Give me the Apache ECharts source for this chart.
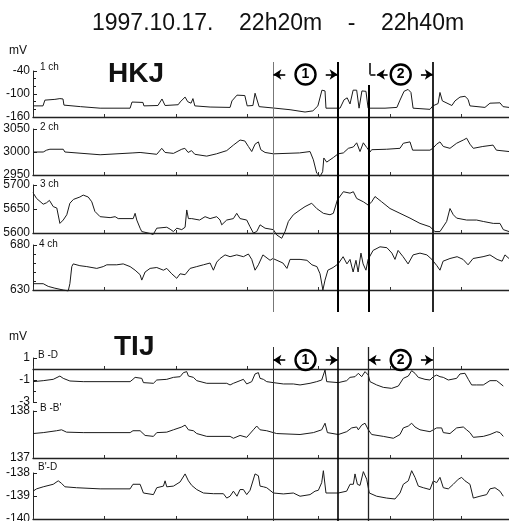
<!DOCTYPE html>
<html>
<head>
<meta charset="utf-8">
<script src="https://cdn.jsdelivr.net/npm/echarts/dist/echarts.min.js"></script>
<style>
    html, body { margin: 0; padding: 0; background: #fff; }
    #chart_01 { width: 509px; height: 521px; }
</style>
</head>
<body>
<div id="chart_01"></div>
<script>
// time in minutes after 22h20m, values in mV
var ch1 = [[0,-131],[0.42,-131],[0.5,-116],[0.92,-114],[1.13,-112],[1.26,-113],[1.3,-129],[2.0,-133],[2.82,-137],[4.08,-137],[4.16,-121],[4.62,-122],[4.66,-131],[5.25,-130],[5.42,-113],[5.55,-130],[6.1,-128],[6.18,-121],[6.39,-108],[6.5,-120],[6.64,-124],[6.72,-112],[6.8,-131],[7.44,-134],[8.28,-135],[8.36,-118],[8.57,-103],[8.9,-104],[9.0,-131],[9.24,-130],[9.33,-98],[9.41,-98],[9.5,-133],[10.17,-137],[10.8,-141],[11.43,-147],[11.76,-144],[11.97,-131],[12.14,-90],[12.27,-92],[12.31,-137],[12.9,-137],[13.07,-115],[13.2,-110],[13.32,-126],[13.45,-90],[13.6,-90],[13.7,-137],[13.82,-92],[13.99,-93],[14.08,-137],[14.79,-137],[15.29,-135],[15.42,-116],[15.59,-93],[15.76,-88],[15.88,-96],[15.97,-137],[16.68,-140],[16.8,-131],[17.02,-125],[17.1,-96],[17.2,-118],[17.6,-130],[17.73,-118],[17.94,-108],[18.15,-106],[18.28,-114],[18.36,-131],[18.99,-135],[19.2,-124],[19.62,-123],[19.75,-133],[20,-135]];
var ch2 = [[0,3000],[0.43,3000],[0.57,3004],[0.71,3006],[1.27,3006],[1.34,3000],[2.82,2994],[4.2,2998],[4.27,3002],[4.5,2999],[5.2,2995],[5.41,3008],[5.55,2999],[5.9,2997],[6.25,3006],[6.38,3008],[6.52,2999],[6.66,3003],[6.8,2995],[7.3,2991],[7.71,2996],[8.14,3003],[8.42,3015],[8.7,3026],[8.9,3024],[9.05,3012],[9.19,3001],[9.33,3017],[9.47,3022],[9.57,3005],[9.75,2999],[10.1,2996],[11.2,2998],[11.64,3001],[11.78,2983],[11.92,2954],[12.06,2947],[12.17,2957],[12.22,2987],[12.34,2978],[12.62,2988],[12.82,2996],[13.04,2998],[13.25,3008],[13.46,3011],[13.6,3020],[13.74,3001],[13.88,3020],[14.02,3010],[14.16,3000],[14.23,3005],[14.86,3006],[15.42,3008],[15.56,3019],[15.84,3022],[15.95,3004],[16.68,3004],[16.8,3008],[16.96,3017],[17.1,3022],[17.24,3012],[17.52,3008],[17.8,3019],[18.08,3026],[18.22,3030],[18.36,3017],[18.5,3008],[18.9,3012],[19.33,3015],[19.47,3004],[20,3001]];
var ch3 = [[0,5684],[0.15,5672],[0.43,5660],[0.57,5663],[0.69,5668],[0.85,5655],[1.0,5652],[1.13,5620],[1.27,5627],[1.42,5638],[1.55,5662],[1.7,5670],[1.97,5675],[2.11,5679],[2.32,5675],[2.47,5665],[2.6,5645],[2.82,5634],[3.24,5632],[3.45,5634],[3.58,5630],[4.21,5630],[4.29,5641],[4.36,5627],[4.5,5610],[4.57,5603],[4.92,5599],[5.05,5597],[5.2,5610],[5.62,5612],[5.76,5608],[5.9,5603],[6.04,5610],[6.25,5607],[6.39,5612],[6.46,5648],[6.53,5630],[6.67,5630],[7.0,5627],[7.23,5634],[7.44,5630],[7.72,5634],[7.86,5627],[7.93,5617],[8.14,5627],[8.42,5630],[8.56,5641],[8.7,5630],[8.98,5627],[9.12,5613],[9.26,5600],[9.4,5603],[9.54,5617],[9.75,5610],[10.1,5607],[10.24,5596],[10.45,5589],[10.59,5603],[10.73,5624],[10.94,5638],[11.22,5648],[11.43,5655],[11.71,5662],[11.92,5651],[12.2,5641],[12.48,5638],[12.62,5641],[12.79,5669],[13.04,5686],[13.32,5683],[13.46,5686],[13.6,5672],[13.88,5665],[14.09,5658],[14.23,5665],[14.37,5676],[14.65,5665],[15.0,5651],[15.42,5641],[15.84,5631],[16.26,5620],[16.68,5613],[16.89,5603],[17.1,5603],[17.38,5624],[17.52,5651],[17.66,5638],[17.8,5631],[18.22,5627],[18.64,5627],[18.92,5624],[19.34,5620],[19.62,5620],[19.76,5607],[20,5603]];
var ch4 = [[0,637],[0.43,637],[0.64,634],[0.92,632],[1.27,630],[1.48,629],[1.55,637],[1.63,656],[1.69,659],[1.97,657],[2.26,656],[2.68,654],[2.95,656],[3.1,658],[3.52,658],[3.79,659],[4.08,656],[4.29,652],[4.5,647],[4.57,641],[4.71,650],[4.92,654],[5.2,655],[5.48,652],[5.62,654],[5.83,648],[6.04,643],[6.18,648],[6.39,647],[6.6,654],[6.88,656],[7.16,658],[7.44,660],[7.58,652],[7.72,661],[7.86,665],[8.07,669],[8.28,667],[8.56,669],[8.84,667],[9.05,670],[9.19,664],[9.33,652],[9.47,658],[9.66,669],[9.96,663],[10.08,665],[10.5,660],[10.67,654],[10.8,664],[11.22,664],[11.51,663],[11.72,658],[11.93,656],[12.06,648],[12.18,630],[12.27,641],[12.39,652],[12.61,655],[12.82,659],[13.03,667],[13.19,659],[13.32,664],[13.45,650],[13.57,663],[13.66,650],[13.78,671],[13.87,659],[13.99,652],[14.08,664],[14.29,674],[14.58,678],[14.87,677],[15.08,671],[15.21,664],[15.34,674],[15.55,667],[15.76,659],[15.97,669],[16.26,671],[16.55,669],[16.76,664],[16.97,657],[17.1,652],[17.23,662],[17.52,665],[17.82,667],[18.07,664],[18.28,658],[18.49,665],[18.91,667],[19.2,669],[19.5,664],[19.71,662],[19.83,669],[20,665]];
var bd = [[0,-1.15],[0.43,-1.06],[0.85,-0.94],[1.13,-0.64],[1.27,-0.85],[1.55,-1.09],[2.11,-1.15],[4.08,-1.15],[4.2,-0.94],[4.29,-0.76],[4.57,-0.85],[4.64,-1.24],[5.06,-1.3],[5.2,-1.0],[5.62,-0.94],[5.9,-0.76],[6.18,-0.7],[6.32,-0.33],[6.46,-0.24],[6.53,-0.64],[6.74,-0.76],[6.88,-1.06],[7.3,-1.3],[8.14,-1.3],[8.28,-1.45],[8.42,-1.3],[8.7,-1.06],[8.84,-0.94],[8.98,-1.36],[9.19,-1.15],[9.33,-0.45],[9.47,-0.33],[9.54,-0.85],[9.68,-0.94],[9.82,-1.15],[10.1,-1.24],[10.52,-1.36],[10.94,-1.36],[11.22,-1.45],[11.64,-1.3],[11.92,-1.15],[12.13,-1.0],[12.27,-0.09],[12.34,-1.15],[12.83,-1.24],[13.18,-1.06],[13.32,-0.76],[13.53,-0.7],[13.67,-0.39],[13.81,-0.7],[13.95,-0.24],[14.09,-0.55],[14.16,-1.15],[14.44,-1.45],[14.72,-1.67],[15.07,-1.76],[15.35,-1.55],[15.56,-0.85],[15.77,-0.64],[15.91,-0.15],[16.05,-0.39],[16.19,-0.76],[16.47,-0.94],[16.68,-1.0],[16.82,-0.7],[16.96,-0.55],[17.1,-0.7],[17.24,-0.76],[17.45,-1.0],[17.8,-0.85],[17.94,-0.45],[18.15,-0.39],[18.29,-0.94],[18.43,-1.45],[18.64,-1.45],[18.92,-1.45],[19.2,-1.06],[19.48,-1.06],[19.62,-1.3],[19.76,-1.55]];
var bb = [[0,137.52],[0.43,137.54],[0.99,137.58],[1.2,137.6],[1.41,137.55],[2.11,137.54],[4.08,137.54],[4.2,137.58],[4.5,137.58],[4.71,137.48],[5.06,137.46],[5.2,137.54],[5.62,137.55],[5.9,137.6],[6.25,137.66],[6.39,137.7],[6.53,137.6],[6.74,137.58],[6.88,137.52],[7.3,137.46],[8.28,137.46],[8.42,137.42],[8.7,137.48],[8.98,137.44],[9.26,137.6],[9.4,137.68],[9.54,137.6],[9.82,137.58],[10.24,137.52],[11.22,137.5],[11.78,137.54],[12.13,137.6],[12.27,137.74],[12.37,137.54],[12.83,137.5],[13.18,137.56],[13.39,137.64],[13.6,137.66],[13.67,137.6],[13.81,137.7],[13.95,137.74],[14.09,137.6],[14.23,137.5],[14.72,137.46],[15.14,137.42],[15.42,137.5],[15.56,137.64],[15.77,137.68],[15.91,137.74],[16.05,137.66],[16.26,137.6],[16.68,137.56],[16.82,137.6],[16.96,137.64],[17.17,137.64],[17.24,137.54],[17.52,137.52],[17.8,137.64],[18.08,137.66],[18.22,137.6],[18.36,137.54],[18.5,137.44],[18.92,137.46],[19.2,137.5],[19.48,137.56],[19.62,137.54],[19.76,137.46]];
var b2d = [[0,-138.79],[0.15,-138.69],[0.43,-138.6],[0.85,-138.49],[1.06,-138.34],[1.2,-138.45],[1.34,-138.6],[1.83,-138.64],[2.82,-138.69],[4.08,-138.69],[4.2,-138.49],[4.5,-138.49],[4.64,-138.87],[5.06,-138.94],[5.2,-138.64],[5.48,-138.57],[5.55,-138.34],[5.62,-138.6],[5.9,-138.57],[6.18,-138.39],[6.39,-138.04],[6.53,-138.34],[6.67,-138.54],[6.88,-138.72],[7.16,-138.87],[7.58,-138.9],[8.0,-138.9],[8.14,-139.09],[8.28,-139.01],[8.42,-138.79],[8.57,-139.01],[8.7,-138.72],[8.84,-138.72],[8.98,-138.94],[9.12,-138.75],[9.33,-138.04],[9.47,-138.12],[9.54,-138.57],[9.68,-138.6],[9.82,-138.64],[10.1,-138.87],[10.52,-138.91],[10.94,-138.87],[11.22,-139.01],[11.64,-138.94],[11.85,-138.79],[11.99,-138.75],[12.13,-138.42],[12.2,-137.9],[12.31,-138.87],[12.83,-138.87],[13.18,-138.79],[13.32,-138.49],[13.46,-138.49],[13.53,-138.04],[13.63,-138.49],[13.74,-138.54],[13.88,-137.94],[14.02,-138.27],[14.13,-138.87],[14.44,-139.01],[14.86,-139.09],[15.21,-139.13],[15.42,-138.87],[15.56,-138.49],[15.77,-138.34],[15.91,-137.9],[16.05,-138.19],[16.19,-138.57],[16.4,-138.64],[16.68,-138.72],[16.82,-138.34],[16.96,-138.42],[17.1,-138.19],[17.24,-138.64],[17.45,-138.69],[17.66,-138.49],[17.87,-138.27],[18.01,-138.19],[18.15,-138.34],[18.36,-138.49],[18.5,-139.09],[18.78,-139.01],[19.06,-138.94],[19.2,-138.69],[19.41,-138.64],[19.62,-138.79],[19.76,-139.01]];

// marked intervals (minutes) and their labels
var intervals = [[10.1, 12.8], [14.1, 16.8]];
var intervalNames = ['1', '2'];

var panels = [
    {data: ch1, min: -160, max: -40, interval: 60, minor: 3, top: 71, height: 46},
    {data: ch2, min: 2950, max: 3050, interval: 50, minor: 1, top: 129, height: 46},
    {data: ch3, min: 5600, max: 5700, interval: 50, minor: 1, top: 185, height: 48},
    {data: ch4, min: 630, max: 680, interval: 50, minor: 5, top: 245, height: 45},
    {data: bd, min: -3, max: 1, interval: 2, minor: 2, top: 358, height: 44},
    {data: bb, min: 137, max: 138, interval: 1, minor: 1, top: 411, height: 47},
    {data: b2d, min: -140, max: -138, interval: 1, minor: 1, top: 473, height: 46}
];

var FONT = 'Liberation Sans';
var grids = [], xAxes = [], yAxes = [], series = [];

panels.forEach(function (p, i) {
    grids.push({left: 33, width: 476, top: p.top, height: p.height, outerBoundsMode: 'none'});
    xAxes.push({
        type: 'value', gridIndex: i, min: 0, max: 20, interval: 3,
        axisLine: {lineStyle: {color: '#222', width: 1.3}},
        axisTick: {inside: true, length: 3, lineStyle: {color: '#333'}},
        axisLabel: {show: false},
        splitLine: {show: false}
    });
    yAxes.push({
        type: 'value', gridIndex: i, min: p.min, max: p.max, interval: p.interval,
        axisLine: {show: true, lineStyle: {color: '#222', width: 1}},
        axisTick: {show: true, inside: true, length: 4, lineStyle: {color: '#222'}},
        minorTick: {show: p.minor > 1, splitNumber: p.minor, length: 3, lineStyle: {color: '#222'}},
        axisLabel: {
            color: '#111', fontSize: 12, fontFamily: FONT, margin: 3,
            showMinLabel: true, showMaxLabel: true,
            formatter: function (v) { return String(v); }
        },
        splitLine: {show: false}
    });
    series.push({
        type: 'line', xAxisIndex: i, yAxisIndex: i, data: p.data,
        showSymbol: false, clip: false, silent: true,
        lineStyle: {color: '#1a1a1a', width: 1}
    });
});

// overlay grids for the interval markers
function overlay(idx, top, height) {
    grids.push({left: 33, width: 476, top: top, height: height, outerBoundsMode: 'none'});
    xAxes.push({type: 'value', gridIndex: idx, min: 0, max: 20, show: false});
    yAxes.push({type: 'value', gridIndex: idx, min: 0, max: 1, inverse: true, show: false});
}
overlay(7, 62, 250);
overlay(8, 347, 174);

function vline(x, y0, color, width) {
    return [{coord: [x, y0]}, {coord: [x, 1], lineStyle: {color: color, width: width, type: 'solid'}}];
}
function seg(x0, y0, x1, y1) {
    return [{coord: [x0, y0]}, {coord: [x1, y1], lineStyle: {color: '#000', width: 1.5, type: 'solid'}}];
}
function arrow(from, to, y) {
    return [{coord: [from, y]}, {coord: [to, y], symbol: 'arrow', symbolSize: 8, lineStyle: {color: '#000', width: 1.6, type: 'solid'}}];
}
function circles(y) {
    return intervals.map(function (iv, k) {
        return {coord: [(iv[0] + iv[1]) / 2, y], value: intervalNames[k]};
    });
}
var circleStyle = {
    symbol: 'circle', symbolSize: 20, silent: true,
    itemStyle: {color: '#fff', borderColor: '#000', borderWidth: 2.4},
    label: {show: true, position: 'inside', formatter: '{c}', color: '#000', fontSize: 14, fontWeight: 'bold', fontFamily: FONT}
};

var upY = 0.05, loY = 0.075;
var hookX = intervals[1][0] + 0.07;
var upperLines = [
    vline(intervals[0][0], 0, '#777', 1),
    vline(intervals[0][1], 0, '#000', 2),
    vline(intervals[1][0], 0.092, '#000', 2),
    vline(intervals[1][1], 0, '#111', 1.8),
    seg(hookX, 0.004, hookX, upY),
    seg(hookX, upY, hookX + 0.22, upY),
    arrow(intervals[0][0] + 0.5, intervals[0][0], upY),
    arrow(intervals[0][1] - 0.5, intervals[0][1], upY),
    arrow(intervals[1][0] + 0.8, intervals[1][0] + 0.35, upY),
    arrow(intervals[1][1] - 0.5, intervals[1][1], upY)
];
var lowerLines = [
    vline(intervals[0][0], 0, '#333', 1),
    vline(intervals[0][1], 0, '#000', 1.6),
    vline(intervals[1][0], 0, '#222', 1.3),
    vline(intervals[1][1], 0, '#444', 1),
    arrow(intervals[0][0] + 0.5, intervals[0][0], loY),
    arrow(intervals[0][1] - 0.5, intervals[0][1], loY),
    arrow(intervals[1][0] + 0.5, intervals[1][0], loY),
    arrow(intervals[1][1] - 0.5, intervals[1][1], loY)
];

var markLineBase = {silent: true, symbol: 'none', label: {show: false}, lineStyle: {type: 'solid'}};
series.push({
    type: 'line', xAxisIndex: 7, yAxisIndex: 7, data: [], silent: true,
    markLine: Object.assign({data: upperLines}, markLineBase),
    markPoint: Object.assign({data: circles(upY)}, circleStyle)
});
series.push({
    type: 'line', xAxisIndex: 8, yAxisIndex: 8, data: [], silent: true,
    markLine: Object.assign({data: lowerLines}, markLineBase),
    markPoint: Object.assign({data: circles(loY)}, circleStyle)
});

function label(text, left, top, size, bold) {
    return {text: text, left: left, top: top, padding: 0,
        textStyle: {color: '#111', fontSize: size, fontWeight: bold ? 'bold' : 'normal', fontFamily: FONT}};
}

var myChart = echarts.init(document.getElementById('chart_01'));
myChart.setOption({
    animation: false,
    title: [
        label('1997.10.17.    22h20m    -    22h40m', 92, 12, 23),
        label('HKJ', 108, 60, 28, true),
        label('TIJ', 114, 333, 28, true),
        label('mV', 9, 45, 12),
        label('mV', 9, 331, 12),
        label('1 ch', 40, 62, 10),
        label('2 ch', 40, 122, 10),
        label('3 ch', 40, 179, 10),
        label('4 ch', 39, 239, 10),
        label('B -D', 38, 350, 10),
        label("B -B'", 40, 403, 10),
        label("B'-D", 38, 462, 10)
    ],
    grid: grids,
    xAxis: xAxes,
    yAxis: yAxes,
    series: series
});
</script>
</body>
</html>
